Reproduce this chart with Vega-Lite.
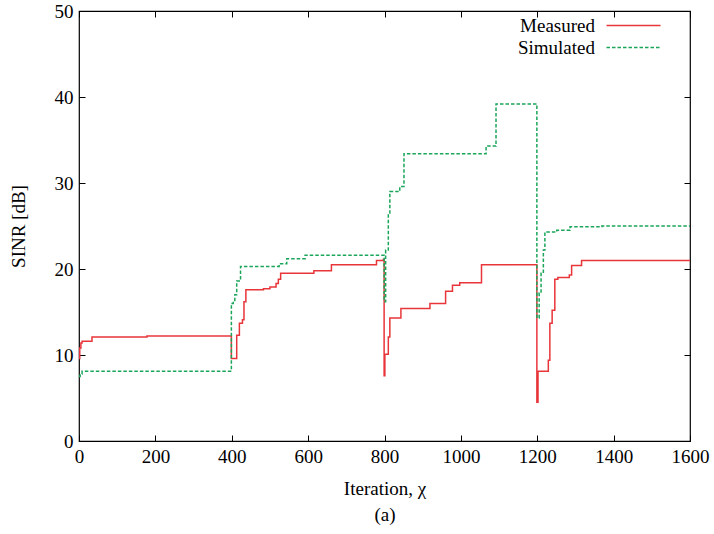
{
  "$schema": "https://vega.github.io/schema/vega-lite/v6.json",
  "width": 611,
  "height": 430,
  "autosize": "none",
  "padding": {"left": 79, "top": 11, "right": 24, "bottom": 93},
  "background": "white",
  "config": {
    "font": "Liberation Serif",
    "view": {"stroke": "#000", "strokeWidth": 1.2},
    "axis": {"grid": false, "domain": false, "tickColor": "#000", "tickSize": -6, "tickWidth": 1, "labelFont": "Liberation Serif", "labelFontSize": 19, "labelColor": "#000", "titleFont": "Liberation Serif", "titleFontSize": 19, "titleFontWeight": "normal", "titleColor": "#000"}
  },
  "data": {"values": [
    {"series": "Measured", "x": 0, "y": 9.6},
    {"series": "Measured", "x": 2, "y": 10.8},
    {"series": "Measured", "x": 5, "y": 11.4},
    {"series": "Measured", "x": 8, "y": 11.6},
    {"series": "Measured", "x": 34, "y": 12.1},
    {"series": "Measured", "x": 178, "y": 12.2},
    {"series": "Measured", "x": 399, "y": 9.6},
    {"series": "Measured", "x": 413, "y": 12.3},
    {"series": "Measured", "x": 420, "y": 13.7},
    {"series": "Measured", "x": 428, "y": 14.1},
    {"series": "Measured", "x": 432, "y": 16.2},
    {"series": "Measured", "x": 437, "y": 17.6},
    {"series": "Measured", "x": 483, "y": 17.7},
    {"series": "Measured", "x": 500, "y": 17.9},
    {"series": "Measured", "x": 516, "y": 18.3},
    {"series": "Measured", "x": 522, "y": 18.8},
    {"series": "Measured", "x": 528, "y": 19.5},
    {"series": "Measured", "x": 615, "y": 19.8},
    {"series": "Measured", "x": 661, "y": 20.5},
    {"series": "Measured", "x": 779, "y": 21.0},
    {"series": "Measured", "x": 797, "y": 21.1},
    {"series": "Measured", "x": 799, "y": 7.6},
    {"series": "Measured", "x": 801, "y": 10.1},
    {"series": "Measured", "x": 810, "y": 12.1},
    {"series": "Measured", "x": 814, "y": 14.3},
    {"series": "Measured", "x": 843, "y": 15.4},
    {"series": "Measured", "x": 919, "y": 16.0},
    {"series": "Measured", "x": 960, "y": 17.4},
    {"series": "Measured", "x": 978, "y": 18.1},
    {"series": "Measured", "x": 997, "y": 18.4},
    {"series": "Measured", "x": 1054, "y": 20.5},
    {"series": "Measured", "x": 1199, "y": 4.5},
    {"series": "Measured", "x": 1202, "y": 8.1},
    {"series": "Measured", "x": 1229, "y": 9.4},
    {"series": "Measured", "x": 1233, "y": 13.7},
    {"series": "Measured", "x": 1239, "y": 15.2},
    {"series": "Measured", "x": 1246, "y": 18.8},
    {"series": "Measured", "x": 1254, "y": 19.0},
    {"series": "Measured", "x": 1284, "y": 19.3},
    {"series": "Measured", "x": 1290, "y": 20.4},
    {"series": "Measured", "x": 1316, "y": 21.0},
    {"series": "Measured", "x": 1600, "y": 21.0},
    {"series": "Simulated", "x": 0, "y": 7.5},
    {"series": "Simulated", "x": 3, "y": 7.8},
    {"series": "Simulated", "x": 8, "y": 8.1},
    {"series": "Simulated", "x": 399, "y": 16.0},
    {"series": "Simulated", "x": 404, "y": 16.2},
    {"series": "Simulated", "x": 408, "y": 17.0},
    {"series": "Simulated", "x": 413, "y": 18.6},
    {"series": "Simulated", "x": 423, "y": 20.3},
    {"series": "Simulated", "x": 524, "y": 20.6},
    {"series": "Simulated", "x": 544, "y": 21.2},
    {"series": "Simulated", "x": 592, "y": 21.6},
    {"series": "Simulated", "x": 799, "y": 16.2},
    {"series": "Simulated", "x": 803, "y": 22.2},
    {"series": "Simulated", "x": 810, "y": 26.5},
    {"series": "Simulated", "x": 814, "y": 29.0},
    {"series": "Simulated", "x": 840, "y": 29.6},
    {"series": "Simulated", "x": 851, "y": 33.4},
    {"series": "Simulated", "x": 1066, "y": 34.3},
    {"series": "Simulated", "x": 1092, "y": 39.2},
    {"series": "Simulated", "x": 1199, "y": 14.3},
    {"series": "Simulated", "x": 1205, "y": 17.2},
    {"series": "Simulated", "x": 1210, "y": 19.5},
    {"series": "Simulated", "x": 1216, "y": 22.2},
    {"series": "Simulated", "x": 1220, "y": 24.3},
    {"series": "Simulated", "x": 1251, "y": 24.5},
    {"series": "Simulated", "x": 1286, "y": 24.9},
    {"series": "Simulated", "x": 1369, "y": 25.0},
    {"series": "Simulated", "x": 1600, "y": 25.0}
  ]},
  "layer": [
    {
      "mark": {"type": "line", "interpolate": "step-after", "strokeWidth": 1.5},
      "encoding": {
        "x": {"field": "x", "type": "quantitative", "scale": {"domain": [0, 1600], "nice": false},
          "axis": {"orient": "bottom", "values": [0, 200, 400, 600, 800, 1000, 1200, 1400, 1600], "format": "d", "labelFont": "Liberation Serif", "labelFontSize": 19, "labelPadding": 12, "title": ["Iteration, χ", "(a)"], "titleFont": "Liberation Serif", "titleFontSize": 19, "titleLineHeight": 26, "titlePadding": 13, "labelFlush": false}},
        "y": {"field": "y", "type": "quantitative", "scale": {"domain": [0, 50], "nice": false},
          "axis": {"orient": "left", "values": [0, 10, 20, 30, 40, 50], "format": "d", "labelFont": "Liberation Serif", "labelFontSize": 19, "labelPadding": 12, "title": "SINR [dB]", "titleFont": "Liberation Serif", "titleFontSize": 19, "titlePadding": 26}},
        "color": {"field": "series", "type": "nominal", "scale": {"domain": ["Measured", "Simulated"], "range": ["#e8353a", "#1aa55a"]},
          "legend": {"orient": "none", "legendX": 545, "legendY": 5, "title": null, "symbolType": "M-9,0H9", "symbolSize": 36, "symbolStrokeWidth": 1.5, "labelFont": "Liberation Serif", "labelFontSize": 19, "labelColor": "#000", "labelAlign": "right", "labelOffset": -48, "rowPadding": 2}},
        "strokeDash": {"field": "series", "type": "nominal", "scale": {"domain": ["Measured", "Simulated"], "range": [[1, 0], [3.5, 2]]}}
      }
    },
    {
      "mark": {"type": "line", "opacity": 0},
      "encoding": {
        "x": {"field": "x", "type": "quantitative", "scale": {"domain": [0, 1600], "nice": false},
          "axis": {"orient": "top", "values": [0, 200, 400, 600, 800, 1000, 1200, 1400, 1600], "labels": false, "title": null}},
        "y": {"field": "y", "type": "quantitative", "scale": {"domain": [0, 50], "nice": false},
          "axis": {"orient": "right", "values": [0, 10, 20, 30, 40, 50], "labels": false, "title": null}}
      }
    }
  ],
  "resolve": {"axis": {"x": "independent", "y": "independent"}}
}
